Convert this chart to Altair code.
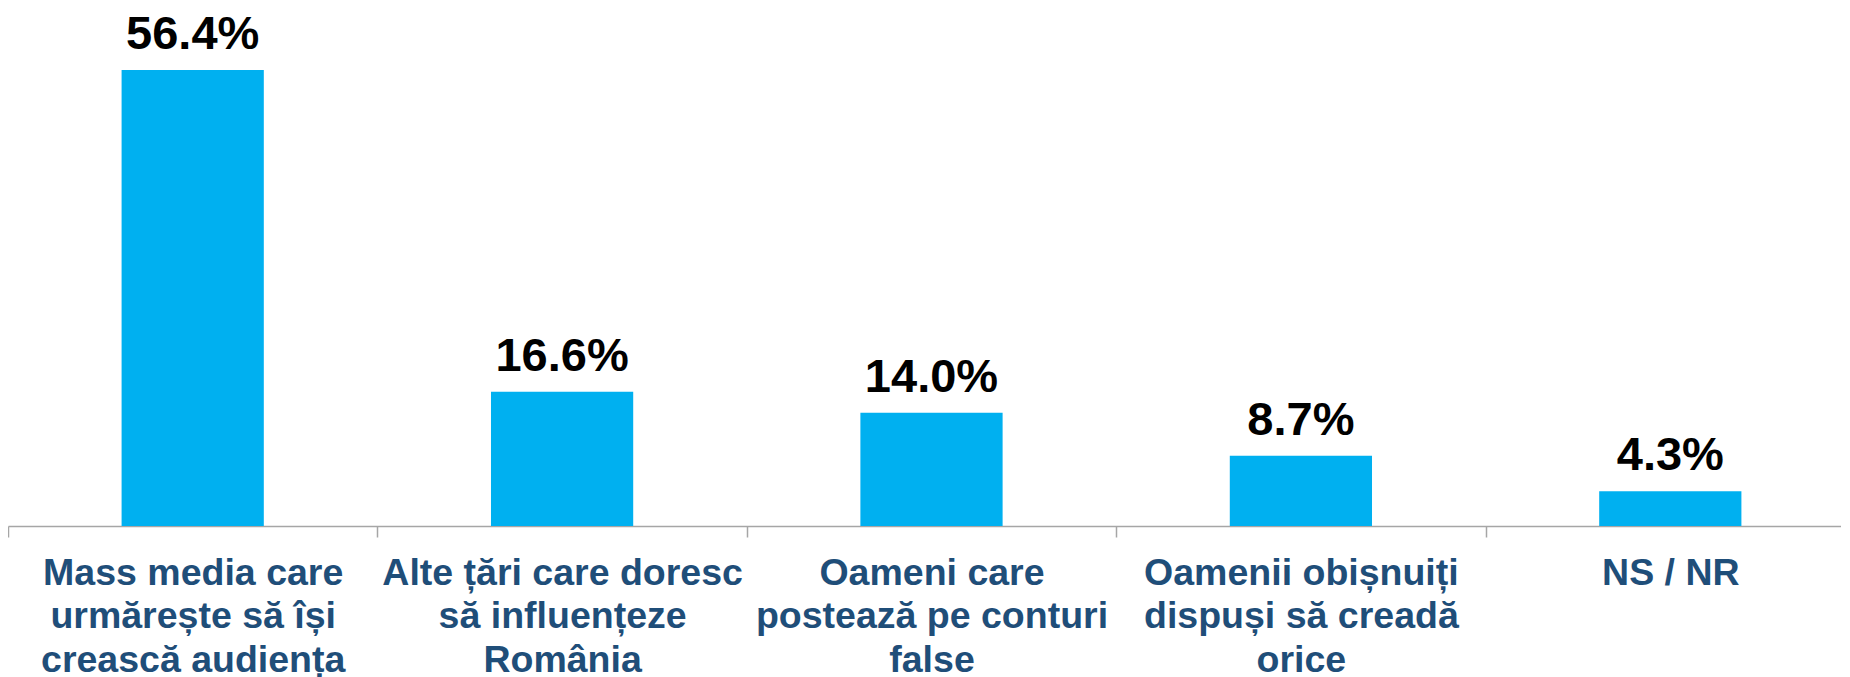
import altair as alt
import pandas as pd

categories = [
    "Mass media care|urmărește să își|crească audiența",
    "Alte țări care doresc|să influențeze|România",
    "Oameni care|postează pe conturi|false",
    "Oamenii obișnuiți|dispuși să creadă|orice",
    "NS / NR",
]
values = [56.4, 16.6, 14.0, 8.7, 4.3]

df = pd.DataFrame({"cat": categories, "value": values})

x_enc = alt.X(
    "cat:N",
    sort=categories,
    title=None,
    scale=alt.Scale(paddingInner=0, paddingOuter=0, range=[0, 1847]),
    axis=alt.Axis(
        labelExpr="split(datum.label, '|')",
        labelAngle=0,
        labelFont="Liberation Sans",
        labelFontSize=37.5,
        labelFontWeight="bold",
        labelColor="#1F4E79",
        labelLineHeight=43.5,
        labelPadding=17,
        labelBaseline="top",
        labelLimit=0,
        labelOverlap=False,
        tickBand="extent",
        tickSize=11,
        tickColor="#A6A6A6",
        tickWidth=1.5,
        domainColor="#A6A6A6",
        domainWidth=1.5,
        grid=False,
    ),
)
y_enc = alt.Y("value:Q", scale=alt.Scale(domain=[0, 60]), axis=None)

base = alt.Chart(df).encode(x=x_enc, y=y_enc)

bars = base.mark_bar(color="#00B0F0", width=alt.RelativeBandSize(0.385))
labels = base.transform_calculate(
    lbl="format(datum.value, '.1f') + '%'"
).mark_text(
    font="Liberation Sans",
    fontSize=47,
    fontWeight="bold",
    color="#000000",
    baseline="alphabetic",
    dy=-21,
).encode(text="lbl:N")

chart = (
    alt.layer(bars, labels)
    .properties(
        width=1833,
        height=485,
        autosize=alt.AutoSizeParams(type="none"),
        padding={"left": 0, "top": 33, "right": 0, "bottom": 159},
        background="white",
    )
    .configure_view(stroke=None)
)

chart.save("out.html", embed_options={"renderer": "svg", "actions": False})
